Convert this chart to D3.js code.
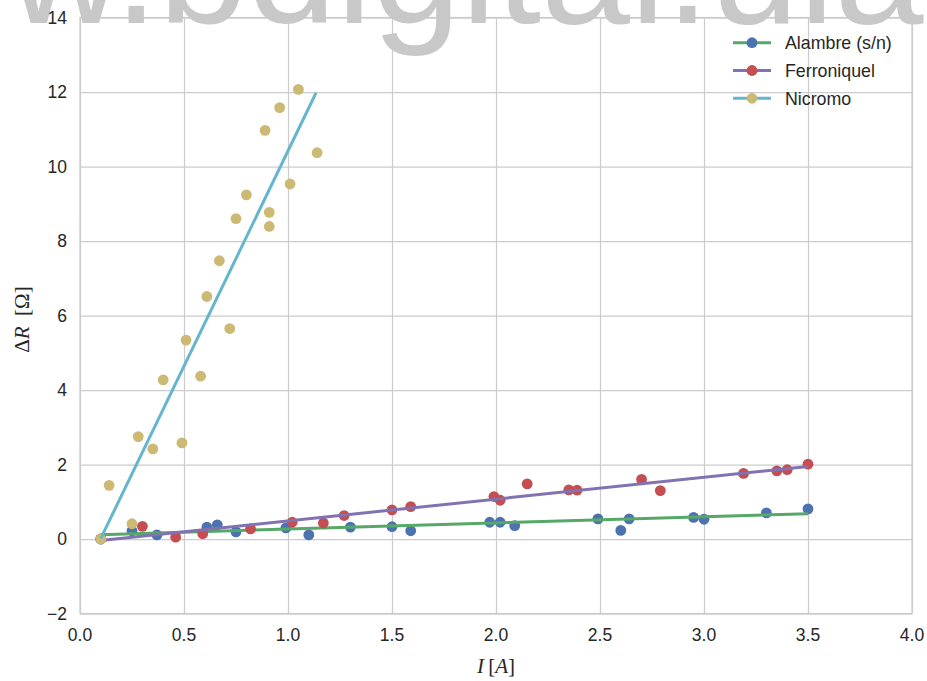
<!DOCTYPE html>
<html>
<head>
<meta charset="utf-8">
<script src="https://cdn.jsdelivr.net/npm/d3@7"></script>
<style>
  html, body { margin: 0; padding: 0; background: #ffffff; }
  svg { display: block; }
</style>
</head>
<body>
<svg id="chart" width="927" height="681"></svg>
<script>
// Measured current I [A] and resistance change ΔR [Ω] for three wires
const seriesNames = ["Alambre (s/n)", "Ferroniquel", "Nicromo"];

const alambreI  = [0.1, 0.25, 0.37, 0.61, 0.66, 0.75, 0.99, 1.1, 1.3, 1.5, 1.59, 1.97, 2.02, 2.09, 2.49, 2.6, 2.64, 2.95, 3.0, 3.3, 3.5];
const alambreDR = [0.0, 0.22, 0.11, 0.32, 0.38, 0.19, 0.30, 0.11, 0.32, 0.33, 0.22, 0.45, 0.45, 0.36, 0.54, 0.23, 0.54, 0.58, 0.53, 0.70, 0.81];

const ferroI  = [0.1, 0.3, 0.46, 0.59, 0.82, 1.02, 1.17, 1.27, 1.5, 1.59, 1.99, 2.02, 2.15, 2.35, 2.39, 2.7, 2.79, 3.19, 3.35, 3.4, 3.5];
const ferroDR = [0.0, 0.34, 0.05, 0.14, 0.27, 0.45, 0.43, 0.63, 0.78, 0.87, 1.14, 1.04, 1.48, 1.32, 1.31, 1.60, 1.30, 1.76, 1.83, 1.86, 2.01];

const nicromoI  = [0.1, 0.14, 0.25, 0.28, 0.35, 0.4, 0.49, 0.51, 0.58, 0.61, 0.67, 0.72, 0.75, 0.8, 0.89, 0.91, 0.91, 0.96, 1.01, 1.05, 1.14];
const nicromoDR = [0.0, 1.44, 0.41, 2.75, 2.42, 4.27, 2.58, 5.34, 4.37, 6.51, 7.47, 5.65, 8.60, 9.24, 10.97, 8.39, 8.77, 11.58, 9.53, 12.07, 10.37];

// Linear fits: [I, ΔR] at the first and last measured current
const alambreFit = [[0.1, 0.117], [3.5, 0.678]];
const ferroFit   = [[0.1, -0.04], [3.5, 1.948]];
const nicromoFit = [[0.1, 0.016], [1.135, 11.98]];

const xTicks = [0.0, 0.5, 1.0, 1.5, 2.0, 2.5, 3.0, 3.5, 4.0];
const yTicks = [-2, 0, 2, 4, 6, 8, 10, 12, 14];

// seaborn "deep" colours: markers and fit line of each series
const markerColors = ["#4C72B0", "#C44E52", "#CCB974"];
const lineColors   = ["#55A868", "#8172B2", "#64B5CD"];

const series = [
  { name: seriesNames[0], I: alambreI, dR: alambreDR, fit: alambreFit },
  { name: seriesNames[1], I: ferroI,   dR: ferroDR,   fit: ferroFit },
  { name: seriesNames[2], I: nicromoI, dR: nicromoDR, fit: nicromoFit }
];

const svg = d3.select("#chart");
const plot = { left: 80, right: 912, top: 17.5, bottom: 613.5 };

const x = d3.scaleLinear().domain([0, 4]).range([plot.left, plot.right]);
const y = d3.scaleLinear().domain([-2, 14]).range([plot.bottom, plot.top]);

const sans = "'Liberation Sans', Arial, sans-serif";
const serif = "'Liberation Serif', 'DejaVu Serif', serif";
const gridColor = "#cccccc";
const textColor = "#262626";
const fmtX = d3.format(".1f");
const fmtY = v => (v < 0 ? "\u2212" + Math.abs(v) : String(v));

// Grid
const gx = svg.append("g")
  .attr("transform", `translate(0,${plot.bottom})`)
  .call(d3.axisBottom(x).tickValues(xTicks).tickSize(-(plot.bottom - plot.top)).tickFormat(""));
const gy = svg.append("g")
  .attr("transform", `translate(${plot.left},0)`)
  .call(d3.axisLeft(y).tickValues(yTicks).tickSize(-(plot.right - plot.left)).tickFormat(""));
[gx, gy].forEach(g => {
  g.select(".domain").remove();
  g.selectAll(".tick line").attr("stroke", gridColor).attr("stroke-width", 1.25);
});

// Frame
svg.append("rect")
  .attr("x", plot.left).attr("y", plot.top)
  .attr("width", plot.right - plot.left).attr("height", plot.bottom - plot.top)
  .attr("fill", "none").attr("stroke", gridColor).attr("stroke-width", 1.25);

// Repository watermark across the top
const wm = svg.append("text")
  .attr("y", 23)
  .style("font-family", sans)
  .style("font-size", "160px")
  .attr("fill", "#c8c8c8")
  .text("www.bdigital.ula.ve");
const prefix = wm.node().getSubStringLength(0, 3);
wm.attr("x", 114 - prefix);

// Tick labels
const fontSize = "17.5px";
svg.append("g").selectAll("text").data(xTicks).join("text")
  .attr("x", d => x(d)).attr("y", plot.bottom + 27)
  .attr("text-anchor", "middle")
  .style("font-family", sans).style("font-size", fontSize).attr("fill", textColor)
  .text(fmtX);
svg.append("g").selectAll("text").data(yTicks).join("text")
  .attr("x", plot.left - 13).attr("y", d => y(d))
  .attr("dy", "0.36em")
  .attr("text-anchor", "end")
  .style("font-family", sans).style("font-size", fontSize).attr("fill", textColor)
  .text(fmtY);

// Axis labels (math style)
const xl = svg.append("text")
  .attr("x", (plot.left + plot.right) / 2).attr("y", 673)
  .attr("text-anchor", "middle")
  .style("font-family", serif).style("font-size", "21px").attr("fill", textColor);
xl.append("tspan").style("font-style", "italic").text("I");
xl.append("tspan").text("\u2009[");
xl.append("tspan").style("font-style", "italic").text("A");
xl.append("tspan").text("]");

const yl = svg.append("text")
  .attr("transform", `translate(29,${(plot.top + plot.bottom) / 2 + 4}) rotate(-90)`)
  .attr("text-anchor", "middle")
  .style("font-family", serif).style("font-size", "21px").attr("fill", textColor);
yl.append("tspan").text("\u0394");
yl.append("tspan").style("font-style", "italic").text("R");
yl.append("tspan").text("\u2002[\u03A9]");

// Data: markers then fitted line per series
const line = d3.line().x(d => x(d[0])).y(d => y(d[1]));
const markerR = 5.4;
series.forEach((s, i) => {
  svg.append("g").selectAll("circle").data(s.I.map((v, k) => [v, s.dR[k]])).join("circle")
    .attr("cx", d => x(d[0])).attr("cy", d => y(d[1]))
    .attr("r", markerR).attr("fill", markerColors[i]);
  svg.append("path").datum(s.fit)
    .attr("d", line)
    .attr("fill", "none").attr("stroke", lineColors[i])
    .attr("stroke-width", 3).attr("stroke-linecap", "butt");
});

// Legend
const legend = svg.append("g");
const legY = [42.7, 70.5, 98.3];
series.forEach((s, i) => {
  const g = legend.append("g").attr("transform", `translate(0,${legY[i]})`);
  g.append("line").attr("x1", 733).attr("x2", 771).attr("y1", 0).attr("y2", 0)
    .attr("stroke", lineColors[i]).attr("stroke-width", 3);
  g.append("circle").attr("cx", 752).attr("cy", 0).attr("r", markerR).attr("fill", markerColors[i]);
  g.append("text").attr("x", 785).attr("y", 0).attr("dy", "0.36em")
    .style("font-family", sans).style("font-size", "17.8px").attr("fill", textColor).text(s.name);
});
</script>
</body>
</html>
